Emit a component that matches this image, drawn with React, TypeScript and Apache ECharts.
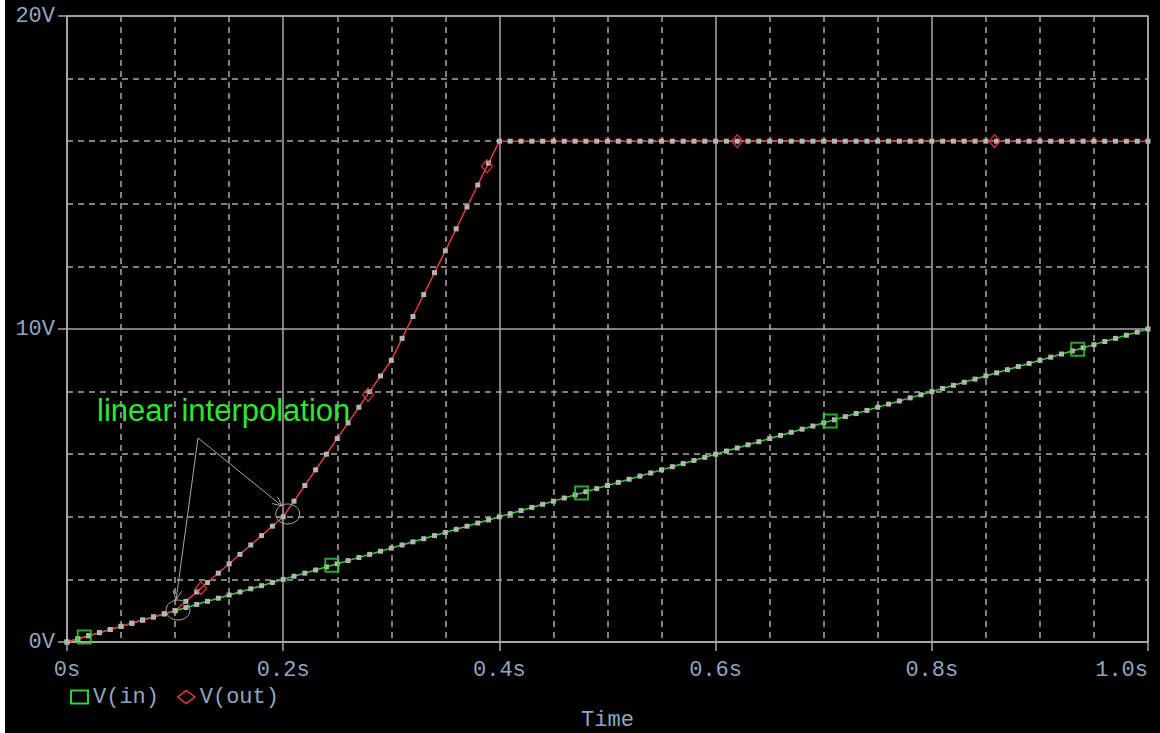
import React, { useEffect, useRef } from "react";
import * as echarts from "echarts";

// Simulation time points (s)
const timeS = [
  0.0, 0.01, 0.02, 0.03, 0.04, 0.05, 0.06, 0.07, 0.08, 0.09,
  0.1, 0.11, 0.12, 0.13, 0.14, 0.15, 0.16, 0.17, 0.18, 0.19,
  0.2, 0.21, 0.22, 0.23, 0.24, 0.25, 0.26, 0.27, 0.28, 0.29,
  0.3, 0.31, 0.32, 0.33, 0.34, 0.35, 0.36, 0.37, 0.38, 0.39,
  0.4, 0.41, 0.42, 0.43, 0.44, 0.45, 0.46, 0.47, 0.48, 0.49,
  0.5, 0.51, 0.52, 0.53, 0.54, 0.55, 0.56, 0.57, 0.58, 0.59,
  0.6, 0.61, 0.62, 0.63, 0.64, 0.65, 0.66, 0.67, 0.68, 0.69,
  0.7, 0.71, 0.72, 0.73, 0.74, 0.75, 0.76, 0.77, 0.78, 0.79,
  0.8, 0.81, 0.82, 0.83, 0.84, 0.85, 0.86, 0.87, 0.88, 0.89,
  0.9, 0.91, 0.92, 0.93, 0.94, 0.95, 0.96, 0.97, 0.98, 0.99,
  1.0,
];

// V(in) (V)
const vIn = [
  0.0, 0.1, 0.2, 0.3, 0.4, 0.5, 0.6, 0.7, 0.8, 0.9,
  1.0, 1.1, 1.2, 1.3, 1.4, 1.5, 1.6, 1.7, 1.8, 1.9,
  2.0, 2.1, 2.2, 2.3, 2.4, 2.5, 2.6, 2.7, 2.8, 2.9,
  3.0, 3.1, 3.2, 3.3, 3.4, 3.5, 3.6, 3.7, 3.8, 3.9,
  4.0, 4.1, 4.2, 4.3, 4.4, 4.5, 4.6, 4.7, 4.8, 4.9,
  5.0, 5.1, 5.2, 5.3, 5.4, 5.5, 5.6, 5.7, 5.8, 5.9,
  6.0, 6.1, 6.2, 6.3, 6.4, 6.5, 6.6, 6.7, 6.8, 6.9,
  7.0, 7.1, 7.2, 7.3, 7.4, 7.5, 7.6, 7.7, 7.8, 7.9,
  8.0, 8.1, 8.2, 8.3, 8.4, 8.5, 8.6, 8.7, 8.8, 8.9,
  9.0, 9.1, 9.2, 9.3, 9.4, 9.5, 9.6, 9.7, 9.8, 9.9,
  10.0,
];

// V(out) (V)
const vOut = [
  0.0, 0.1, 0.2, 0.3, 0.4, 0.5, 0.6, 0.7, 0.8, 0.9,
  1.0, 1.3, 1.6, 1.9, 2.2, 2.5, 2.8, 3.1, 3.4, 3.7,
  4.0, 4.5, 5.0, 5.5, 6.0, 6.5, 7.0, 7.5, 8.0, 8.5,
  9.0, 9.7, 10.4, 11.1, 11.8, 12.5, 13.2, 13.9, 14.6, 15.3,
  16, 16, 16, 16, 16, 16, 16, 16, 16, 16,
  16, 16, 16, 16, 16, 16, 16, 16, 16, 16,
  16, 16, 16, 16, 16, 16, 16, 16, 16, 16,
  16, 16, 16, 16, 16, 16, 16, 16, 16, 16,
  16, 16, 16, 16, 16, 16, 16, 16, 16, 16,
  16, 16, 16, 16, 16, 16, 16, 16, 16, 16,
  16,
];

// Trace identification markers
const vInMarkT = [0.016, 0.245, 0.476, 0.706, 0.935];
const vInMarkV = [0.16, 2.45, 4.76, 7.06, 9.35];
const vOutMarkT = [0.124, 0.2785, 0.3885, 0.62, 0.858];
const vOutMarkV = [1.72, 7.9, 15.2, 16, 16];

// Axis ticks
const xTicks = [0, 0.2, 0.4, 0.6, 0.8, 1.0];
const yTicks = [0, 10, 20];

// Annotation anchors (data coordinates)
const annoText = "linear interpolation";
const annoApex = [0.1212, 6.52];
const annoEnds = [
  [0.1009, 1.35],
  [0.1988, 4.35],
];
const annoCircles = [
  [0.1027, 1.02],
  [0.2042, 4.09],
];

const LABEL = "#8fa7bf";
const GRID = "#a9a9a9";
const MONO = "'Liberation Mono', 'DejaVu Sans Mono', monospace";

export default function App() {
  const ref = useRef<HTMLDivElement>(null);
  useEffect(() => {
    document.body.style.margin = "0";
    document.body.style.background = "#ffffff";
    const chart = echarts.init(ref.current!, null, { renderer: "svg" });
    const zip = (a: number[], b: number[]) => a.map((t, i) => [t, b[i]]);
    const option: any = {
      animation: false,
      backgroundColor: "#000000",
      grid: {
        left: 62,
        top: 16,
        right: 12,
        bottom: 91,
        outerBoundsMode: "none",
        containLabel: false,
        show: true,
        borderColor: GRID,
        borderWidth: 1.5,
      },
      legend: {
        left: 60,
        top: 681,
        itemWidth: 17,
        itemHeight: 13,
        itemGap: 18,
        textStyle: { color: LABEL, fontFamily: MONO, fontSize: 22 },
        data: [
          {
            name: "V(in)",
            icon: "rect",
            itemStyle: { color: "rgba(0,0,0,0)", borderColor: "#2fd42f", borderWidth: 2 },
          },
          {
            name: "V(out)",
            icon: "diamond",
            itemStyle: { color: "rgba(0,0,0,0)", borderColor: "#e04040", borderWidth: 1.5 },
          },
        ],
      },
      xAxis: {
        type: "value",
        min: xTicks[0],
        max: xTicks[xTicks.length - 1],
        interval: 0.2,
        name: "Time",
        nameLocation: "middle",
        nameGap: 67,
        nameTextStyle: { color: LABEL, fontFamily: MONO, fontSize: 22 },
        axisLine: { show: true, lineStyle: { color: GRID, width: 1.5 } },
        axisTick: { show: true, length: 9, lineStyle: { color: GRID, width: 1.5 } },
        minorTick: { show: false, splitNumber: 4 },
        axisLabel: {
          color: LABEL,
          fontFamily: MONO,
          fontSize: 22,
          margin: 17,
          alignMaxLabel: "right",
          formatter: (v: number) => (v === 0 ? "0s" : v.toFixed(1) + "s"),
        },
        splitLine: { show: true, lineStyle: { color: GRID, width: 1.5 } },
        minorSplitLine: { show: true, lineStyle: { color: GRID, width: 1.5, type: [6, 5] } },
      },
      yAxis: {
        type: "value",
        min: yTicks[0],
        max: yTicks[yTicks.length - 1],
        interval: 10,
        axisLine: { show: true, lineStyle: { color: GRID, width: 1.5 } },
        axisTick: { show: true, length: 9, lineStyle: { color: GRID, width: 1.5 } },
        minorTick: { show: false, splitNumber: 5 },
        axisLabel: {
          color: LABEL,
          fontFamily: MONO,
          fontSize: 22,
          margin: 12,
          formatter: (v: number) => v + "V",
        },
        splitLine: { show: true, lineStyle: { color: GRID, width: 1.5 } },
        minorSplitLine: { show: true, lineStyle: { color: GRID, width: 1.5, type: [6, 5] } },
      },
      series: [
        {
          name: "V(in)",
          type: "line",
          data: zip(timeS, vIn),
          lineStyle: { color: "#2fd42f", width: 1.5 },
          itemStyle: { color: "#b4b4b4" },
          symbol: "rect",
          symbolSize: 5,
          showAllSymbol: true,
          z: 3,
        },
        {
          name: "V(out)",
          type: "line",
          data: zip(timeS, vOut),
          lineStyle: { color: "#e03a3a", width: 1.5 },
          itemStyle: { color: "#b4b4b4" },
          symbol: "rect",
          symbolSize: 5,
          showAllSymbol: true,
          z: 4,
        },
        {
          name: "V(in) marker",
          type: "scatter",
          data: zip(vInMarkT, vInMarkV),
          symbol: "rect",
          symbolSize: 13,
          itemStyle: { color: "rgba(0,0,0,0)", borderColor: "#2fd42f", borderWidth: 2 },
          z: 5,
        },
        {
          name: "V(out) marker",
          type: "scatter",
          data: zip(vOutMarkT, vOutMarkV),
          symbol: "diamond",
          symbolSize: [11, 13],
          itemStyle: { color: "rgba(0,0,0,0)", borderColor: "#e04040", borderWidth: 1.5 },
          z: 5,
        },
      ],
    };
    chart.setOption(option);

    const px = (p: number[]) => chart.convertToPixel({ gridIndex: 0 }, p) as number[];
    const apex = px(annoApex);
    const gray = { stroke: "#a8a8a8", lineWidth: 1, fill: null };
    const elems: any[] = [];
    annoEnds.forEach((e) => {
      const end = px(e);
      elems.push({
        type: "line",
        shape: { x1: apex[0], y1: apex[1], x2: end[0], y2: end[1] },
        style: gray,
        z: 10,
      });
      const ang = Math.atan2(end[1] - apex[1], end[0] - apex[0]);
      const L = 10;
      const spread = 0.45;
      elems.push({
        type: "polyline",
        shape: {
          points: [
            [end[0] - L * Math.cos(ang - spread), end[1] - L * Math.sin(ang - spread)],
            [end[0], end[1]],
            [end[0] - L * Math.cos(ang + spread), end[1] - L * Math.sin(ang + spread)],
          ],
        },
        style: gray,
        z: 10,
      });
    });
    annoCircles.forEach((c) => {
      const p = px(c);
      elems.push({
        type: "ellipse",
        shape: { cx: p[0], cy: p[1], rx: 12, ry: 10 },
        style: gray,
        z: 10,
      });
    });
    elems.push({
      type: "text",
      x: 92,
      y: 395,
      style: {
        text: annoText,
        fill: "#2ee62e",
        font: "31px 'Liberation Sans', Arial, sans-serif",
        verticalAlign: "top",
      },
      z: 10,
    });
    chart.setOption({ graphic: elems });
    return () => chart.dispose();
  }, []);
  return (
    <div
      ref={ref}
      style={{ position: "absolute", left: 5, top: 0, width: 1155, height: 733 }}
    />
  );
}
